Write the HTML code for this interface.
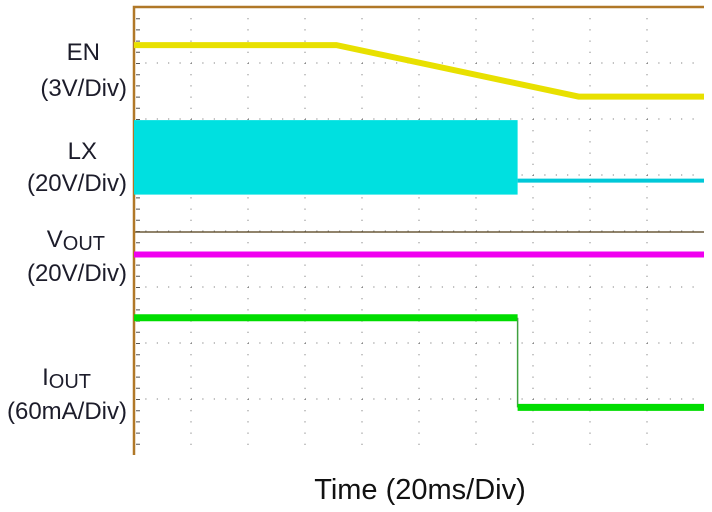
<!DOCTYPE html>
<html><head><meta charset="utf-8"><style>
body{margin:0;background:#fff;width:712px;height:512px;overflow:hidden;font-family:"Liberation Sans",sans-serif}
svg{position:absolute;left:0;top:0}
</style></head><body>
<svg width="712" height="512">
<g id="grid"></g>
<g id="traces"></g>
<g font-size="24" fill="#1c1c2a" text-anchor="end">
<text x="100" y="60">EN</text>
<text x="127" y="96">(3V/Div)</text>
<text x="97" y="159">LX</text>
<text x="127" y="191">(20V/Div)</text>
<text x="105" y="247">V<tspan font-size="20" dy="3">OUT</tspan></text>
<text x="127" y="281">(20V/Div)</text>
<text x="91" y="385">I<tspan font-size="20" dy="3">OUT</tspan></text>
<text x="127" y="419">(60mA/Div)</text>
</g>
<text x="420" y="499" font-size="29" fill="#111" text-anchor="middle">Time (20ms/Div)</text>
</svg>
<script>
const enTime=[0,3.55,7.8,10];
const enLevel=[0.68,0.68,1.6,1.6];
const lxSwitchTime=[0,6.73];
const lxHigh=[2.02];
const lxLow=[3.35];
const lxOff=[3.1];
const voutTime=[0,10];
const voutLevel=[4.42,4.42];
const ioutTime=[0,6.73,6.73,10];
const ioutLevel=[5.55,5.55,7.15,7.15];
const X0=134,X1=704,Y0=7,Y1=455;
const xs=t=>X0+(X1-X0)*t/10;
const ys=v=>Y0+(Y1-Y0)*v/8;
const NS="http://www.w3.org/2000/svg";
const grid=document.getElementById('grid'),tr=document.getElementById('traces');
function mk(tag,attrs,parent){const e=document.createElementNS(NS,tag);for(const k in attrs)e.setAttribute(k,attrs[k]);parent.appendChild(e);return e;}
for(let i=1;i<10;i++){const l=mk('line',{x1:xs(i),x2:xs(i),y1:Y0,y2:Y1,stroke:'#666','stroke-width':1,'stroke-dasharray':'1 10.2'},grid);

}
for(let j=1;j<8;j++){const l=mk('line',{x1:X0,x2:X1,y1:ys(j),y2:ys(j),stroke:'#666','stroke-width':1,'stroke-dasharray':'1 10.4'},grid);

}
const tk=mk('line',{x1:X0+4,x2:X0+4,y1:Y0,y2:Y1,stroke:'#555','stroke-width':4,'stroke-dasharray':'1 10.2'},grid);


const sep=mk('line',{x1:X0,x2:X1,y1:ys(4)+1,y2:ys(4)+1,stroke:'#6b5a3a','stroke-width':1.5},grid);


const fr=mk('path',{d:`M${X0} ${Y1}V${Y0}H${X1}`,fill:'none',stroke:'#b07828','stroke-width':2.5},grid);


function poly(t,v,col,w,name){const d=t.map((x,i)=>(i?'L':'M')+xs(x)+' '+ys(v[i])).join('');
const p=mk('path',{d:d,fill:'none',stroke:col,'stroke-width':w},tr);

}
poly(enTime,enLevel,'#e8e000',6,'en-trace');
const r=mk('rect',{x:xs(lxSwitchTime[0]),y:ys(lxHigh[0]),width:xs(lxSwitchTime[1])-xs(lxSwitchTime[0]),height:ys(lxLow[0])-ys(lxHigh[0]),fill:'#00e0e0'},tr);


poly([lxSwitchTime[1],10],[lxOff[0],lxOff[0]],'#00c8d8',4,'lx-trace-off');
poly(voutTime,voutLevel,'#f000f0',6,'vout-trace');
poly(ioutTime.slice(0,2),ioutLevel.slice(0,2),'#00dd00',7,'iout-trace-on');
poly(ioutTime.slice(1,3),ioutLevel.slice(1,3),'#40a040',1.5,'iout-step');
poly(ioutTime.slice(2),ioutLevel.slice(2),'#00dd00',7,'iout-trace-off');
</script>
</body></html>
